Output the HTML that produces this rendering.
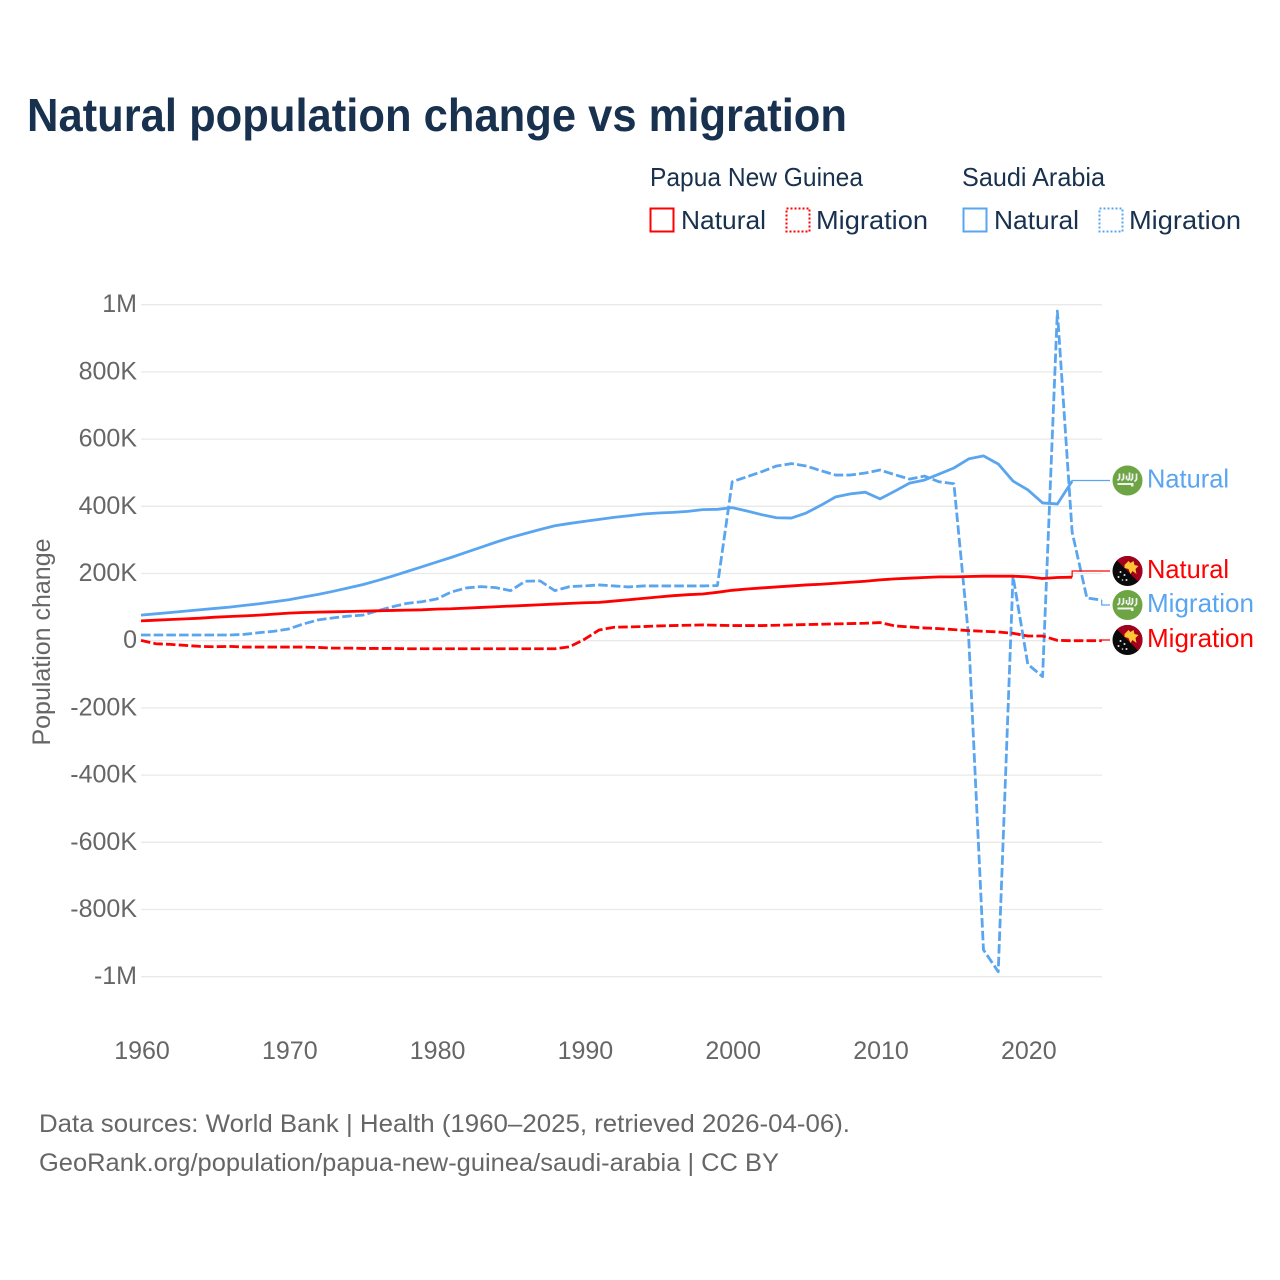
<!DOCTYPE html>
<html lang="en">
<head>
<meta charset="utf-8">
<title>Natural population change vs migration</title>
<style>
html,body{margin:0;padding:0;background:#fff}
svg{display:block;font-family:"Liberation Sans",sans-serif}
</style>
</head>
<body>
<svg id="chart" xmlns="http://www.w3.org/2000/svg" width="1280" height="1280" viewBox="0 0 1280 1280">
  <rect width="1280" height="1280" fill="#fff"/>
  <text x="27" y="131" font-size="46" font-weight="700" fill="#18314f" textLength="820" lengthAdjust="spacingAndGlyphs">Natural population change vs migration</text>

  <g font-size="26" fill="#18314f">
    <text x="650" y="186" textLength="213" lengthAdjust="spacingAndGlyphs">Papua New Guinea</text>
    <text x="962" y="186" textLength="143" lengthAdjust="spacingAndGlyphs">Saudi Arabia</text>
    <rect x="650.5" y="208.5" width="23" height="23" fill="none" stroke="#ff0000" stroke-width="2"/>
    <text x="681" y="229" textLength="85" lengthAdjust="spacingAndGlyphs">Natural</text>
    <rect x="786.5" y="208.5" width="23" height="23" fill="none" stroke="#ff0000" stroke-width="2" stroke-dasharray="2 2"/>
    <text x="816" y="229" textLength="112" lengthAdjust="spacingAndGlyphs">Migration</text>
    <rect x="963.5" y="208.5" width="23" height="23" fill="none" stroke="#5aa5f0" stroke-width="2"/>
    <text x="994" y="229" textLength="85" lengthAdjust="spacingAndGlyphs">Natural</text>
    <rect x="1099.5" y="208.5" width="23" height="23" fill="none" stroke="#5aa5f0" stroke-width="2" stroke-dasharray="2 2"/>
    <text x="1129" y="229" textLength="112" lengthAdjust="spacingAndGlyphs">Migration</text>
  </g>

  <g id="grid"></g>
  <g id="yticks" font-size="25" fill="#666" text-anchor="end"></g>
  <g id="xticks" font-size="25" fill="#666" text-anchor="middle"></g>
  <text transform="translate(50 642) rotate(-90)" font-size="25" fill="#666" text-anchor="middle" textLength="207" lengthAdjust="spacingAndGlyphs">Population change</text>
  <g id="series" fill="none"></g>

  <defs>
    <clipPath id="flag-clip"><circle cx="0" cy="0" r="15"/></clipPath>
    <g id="flag-sa">
      <circle r="15" fill="#6da544"/>
      <path d="M-8 -7 L-8 -2 L-10 0 M-4 -7 L-4 -2 L-6 0 M-1 -5 L-1 -1 M2 -8 L2 -2 L0 0 M5 -7 L5 -2 L3 0 M9 -7 L9 -1 L7 1" stroke="#f0f0f0" stroke-width="1.7" fill="none"/>
      <path d="M-10 2.5 H6 V6 H3.5 V4.5 H-10 Z" fill="#f0f0f0"/>
    </g>
    <g id="flag-png">
      <g clip-path="url(#flag-clip)">
        <rect x="-15" y="-15" width="30" height="30" fill="#0a0a0a"/>
        <path d="M-15 -15 H15 V15 Z" fill="#a2001d"/>
        <path d="M-3 -6 L1 -10 L3 -8 L6 -10 L7 -6 L11 -5 L8 -2 L9 3 L5 0 L3 3 L1 -2 L-3 -3 Z" fill="#ffc533"/>
      </g>
      <g fill="#dfe8f2">
        <circle cx="-7" cy="1" r="1"/><circle cx="-3" cy="4" r="1"/><circle cx="-9" cy="6" r="1"/><circle cx="-1" cy="9" r="1"/><circle cx="-5" cy="9" r=".8"/>
      </g>
    </g>
  </defs>
  <g id="end-labels" font-size="26"></g>

  <g font-size="25" fill="#666">
    <text x="39" y="1132" textLength="811" lengthAdjust="spacingAndGlyphs">Data sources: World Bank | Health (1960–2025, retrieved 2026-04-06).</text>
    <text x="39" y="1171" textLength="740" lengthAdjust="spacingAndGlyphs">GeoRank.org/population/papua-new-guinea/saudi-arabia | CC BY</text>
  </g>
</svg>
<script>
const firstYear = 1960;
const xTickYears = [1960, 1970, 1980, 1990, 2000, 2010, 2020];
const yTickValues = [1000, 800, 600, 400, 200, 0, -200, -400, -600, -800, -1000];
const yTickLabels = ["1M", "800K", "600K", "400K", "200K", "0", "-200K", "-400K", "-600K", "-800K", "-1M"];

const pngNatural = [59,61,63,65,67,70,72,74,76,79,82,84,85,86,87,88,89,90,91,92,94,95,97,99,101,103,105,107,109,111,113,114,118,122,126,130,134,137,139,144,150,154,157,160,163,166,168,171,174,177,181,184,186,188,190,190,191,192,192,192,190,185,188,189];
const pngMigration = [1,-9,-11,-14,-17,-18,-17,-19,-19,-19,-19,-19,-20,-22,-22,-23,-23,-23,-24,-24,-24,-24,-24,-24,-24,-24,-24,-24,-24,-18,4,32,40,41,42,44,45,46,47,46,45,45,45,46,47,48,49,50,51,52,54,44,41,38,36,33,30,28,26,22,14,14,1,0,0,0];
const saNatural = [76,80,84,88,92,96,100,105,110,116,122,130,138,147,157,167,179,192,206,220,234,248,263,278,293,307,319,331,342,349,355,361,367,372,377,380,382,385,390,391,396,386,375,366,365,380,403,428,437,442,422,445,469,478,496,514,541,550,526,475,449,410,407,475];
const saMigration = [17,17,17,17,17,17,17,19,24,28,35,50,62,68,73,76,89,101,111,116,124,145,157,161,158,149,177,178,149,161,163,166,163,160,163,163,163,163,163,164,473,488,503,520,527,520,506,493,493,499,508,494,481,490,473,467,10,-920,-985,192,-70,-107,981,323,127,121];

const NS = "http://www.w3.org/2000/svg";
const x = year => 141 + (year - firstYear) * 14.78;
const y = value => 640.7 - value * 0.336;

function make(tag, attrs, parent) {
  const el = document.createElementNS(NS, tag);
  for (const k in attrs) el.setAttribute(k, attrs[k]);
  parent.appendChild(el);
  return el;
}

const grid = document.getElementById("grid");
const yticks = document.getElementById("yticks");
yTickValues.forEach((v, i) => {
  const line = make("line", {x1: 141, x2: 1102, y1: y(v), y2: y(v), stroke: "#e9e9e9", "stroke-width": 1.3}, grid);
  
  
  const t = make("text", {x: 137, y: y(v) + 7.5}, yticks);
  t.textContent = yTickLabels[i];
  
  
});

const xticks = document.getElementById("xticks");
xTickYears.forEach(yr => {
  const t = make("text", {x: x(yr) + 1, y: 1059}, xticks);
  t.textContent = yr;
  
  
});

function linePath(values) {
  return values.map((v, i) => (i ? "L" : "M") + x(firstYear + i).toFixed(2) + " " + y(v).toFixed(2)).join(" ");
}

const seriesGroup = document.getElementById("series");
const labelGroup = document.getElementById("end-labels");

function drawSeries(values, color, dashed, labelY, flag, text, textWidth) {
  const lastX = x(firstYear + values.length - 1);
  const lastY = y(values[values.length - 1]);
  const conn = make("path", {d: "M" + lastX + " " + lastY + " V" + labelY + " H1110", stroke: color, "stroke-width": 1.2}, seriesGroup);
  
  
  const p = make("path", {d: linePath(values), stroke: color, "stroke-width": 2.8, "stroke-linejoin": "round"}, seriesGroup);
  if (dashed) p.setAttribute("stroke-dasharray", "9.5 3.2");
  
  
  const f = make("use", {href: "#" + flag, transform: "translate(1127.5 " + labelY + ")"}, labelGroup);
  
  
  const t = make("text", {x: 1147, y: labelY + 7, fill: color, textLength: textWidth, lengthAdjust: "spacingAndGlyphs"}, labelGroup);
  t.textContent = text;
  
  
}

drawSeries(saMigration, "#5aa5f0", true, 605, "flag-sa", "Migration", 107);
drawSeries(saNatural, "#5aa5f0", false, 480.5, "flag-sa", "Natural", 82);
drawSeries(pngNatural, "#ff0000", false, 571, "flag-png", "Natural", 82);
drawSeries(pngMigration, "#ff0000", true, 640, "flag-png", "Migration", 107);
</script>
</body>
</html>
